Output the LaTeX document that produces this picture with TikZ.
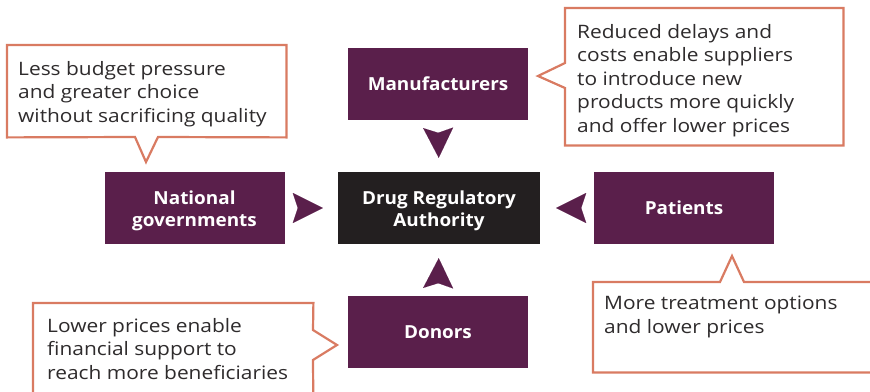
\documentclass[tikz,border=0pt]{standalone}
\usepackage{fontspec}
\setmainfont{Open Sans}[FakeStretch=1.13]
\newfontfamily\boxfont{Open Sans}[FakeStretch=1.05]
\usetikzlibrary{arrows.meta}
\definecolor{plum}{HTML}{5A1F4B}
\definecolor{dra}{HTML}{231F20}
\definecolor{salmon}{HTML}{D97B62}
\definecolor{txt}{HTML}{2E2B2C}
\newcommand\mytopstrut{\rule{0pt}{20pt}}
\tikzset{
  actor/.style={fill=plum, text=white, minimum width=180pt, minimum height=72pt, inner sep=0pt,
    align=center, font=\boxfont\fontsize{18}{22}\selectfont\bfseries},
  central/.style={actor, fill=dra, minimum width=202pt},
  callbox/.style={inner sep=0pt, anchor=north west},
  callline/.style={draw=salmon, line width=2.2pt, fill=white, line join=miter},
  calltext/.style={inner sep=0pt, anchor=north west, align=left, text=txt,
    font=\fontsize{18.5}{23.5}\selectfont},
  tip/.style={draw=plum, line width=0.01pt, shorten <=12.5pt,
    -{Stealth[length=30pt, width=30pt, inset=5pt, fill=plum, color=plum]}}
}
\begin{document}
\begin{tikzpicture}[x=1pt, y=-1pt]
\useasboundingbox (0,0) rectangle (870,391);
% actors
\node[actor] (man) at (438,84) {Manufacturers};
\node[actor] (gov) at (194.5,208) {\mytopstrut National\\governments};
\node[central] (reg) at (439,208) {\mytopstrut Drug Regulatory\\Authority};
\node[actor] (pat) at (684,208) {Patients};
\node[actor] (don) at (438,332) {Donors};
% arrow tips
\draw[tip, shorten >=14pt] (man.south) -- (reg.north);
\draw[tip, shorten >=15pt] (gov.east) -- (reg.west);
\draw[tip, shorten >=16pt] (pat.west) -- (reg.east);
\draw[tip, shorten >=14pt] (don.north) -- (reg.south);
% callout: governments
\node[callbox, minimum width=279pt, minimum height=92pt] (cgov) at (7,45) {};
\draw[callline] (cgov.north west) -- (cgov.north east) -- (cgov.south east)
  -- (158,137) -- (146,162) -- (135,137) -- (cgov.south west) -- cycle;
\node[calltext] (tgov) at (18,61) {Less budget pressure\\and greater choice\\without sacrificing quality};
% callout: manufacturers
\node[callbox, minimum width=278pt, minimum height=137pt] (cman) at (565,8) {};
\draw[callline] (cman.north west) -- (cman.north east) -- (cman.south east)
  -- (cman.south west) -- (565,88) -- (538,76) -- (565,63) -- cycle;
\node[calltext] (tman) at (577,24) {Reduced delays and\\costs enable suppliers\\to introduce new\\products more quickly\\and offer lower prices};
% callout: donors
\node[callbox, minimum width=280pt, minimum height=110pt] (cdon) at (33,303) {};
\draw[callline] (cdon.north west) -- (cdon.north east) -- (313,330) -- (337,345) -- (313,360)
  -- (cdon.south east) -- (cdon.south west) -- cycle;
\node[calltext] (tdon) at (47,318) {Lower prices enable\\financial support to\\reach more beneficiaries};
% callout: patients
\node[callbox, minimum width=280pt, minimum height=90pt] (cpat) at (593,282) {};
\draw[callline] (cpat.north west) -- (720,282) -- (732,256) -- (744,282) -- (cpat.north east)
  -- (cpat.south east) -- (cpat.south west) -- cycle;
\node[calltext] (tpat) at (604,296) {More treatment options\\and lower prices};
\end{tikzpicture}
\end{document}
